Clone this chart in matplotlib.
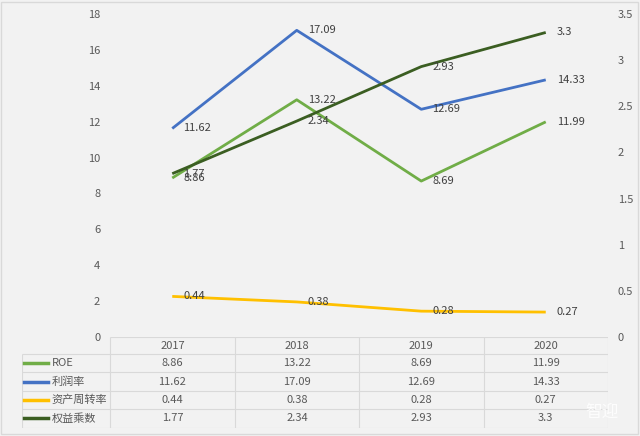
import matplotlib.pyplot as plt

plt.rcParams['font.family'] = ['Noto Sans CJK SC', 'DejaVu Sans']

years = ['2017', '2018', '2019', '2020']
roe = [8.86, 13.22, 8.69, 11.99]
profit_margin = [11.62, 17.09, 12.69, 14.33]
asset_turnover = [0.44, 0.38, 0.28, 0.27]
equity_multiplier = [1.77, 2.34, 2.93, 3.3]

names = ['ROE', '利润率', '资产周转率', '权益乘数']
colors = ['#70ad47', '#4472c4', '#ffc000', '#3b5e22']
series = [roe, profit_margin, asset_turnover, equity_multiplier]
right_axis = [False, False, True, True]

bg = '#f2f2f2'
txt = '#595959'
grid = '#d9d9d9'
W, H = 640, 436

fig = plt.figure(figsize=(6.4, 4.36), dpi=100, facecolor=bg)

# main plot area
ax = fig.add_axes([110 / W, 1 - 337 / H, (608 - 110) / W, (337 - 14) / H])
ax.set_facecolor('none')
ax2 = ax.twinx()
x = list(range(len(years)))
ax.set_xlim(-0.5, 3.5)
ax.set_ylim(0, 18)
ax.set_yticks(range(0, 19, 2))
ax2.set_ylim(0, 3.5)
ax2.set_yticks([0, 0.5, 1, 1.5, 2, 2.5, 3, 3.5])
ax2.set_yticklabels(['0', '0.5', '1', '1.5', '2', '2.5', '3', '3.5'])
ax.set_xticks([])
for a in (ax, ax2):
    for s in a.spines.values():
        s.set_visible(False)
    a.tick_params(length=0, labelsize=8, labelcolor=txt, pad=7)

for vals, c, right in zip(series, colors, right_axis):
    a = ax2 if right else ax
    a.plot(x, vals, color=c, lw=2.0, solid_capstyle='butt')
    for xi, v in zip(x, vals):
        a.annotate(f'{v:g}', (xi, v), xytext=(8, 0), textcoords='offset points',
                   ha='left', va='center', fontsize=8, color='#404040')

# data table
tab = fig.add_axes([22 / W, 1 - 428 / H, (608 - 22) / W, (428 - 337) / H])
tab.set_facecolor('none')
left = -0.5 - 88 / 124
tab.set_xlim(left, 3.5)
tab.set_ylim(5, 0)
tab.axis('off')
row_y = [0, 0.94, 1.95, 2.95, 3.95, 5]
tab.hlines(row_y[0], -0.5, 3.5, color=grid, lw=0.8)
tab.hlines(row_y[1:], left, 3.5, color=grid, lw=0.8)
tab.vlines([-0.5, 0.5, 1.5, 2.5, 3.5], 0, 5, color=grid, lw=0.8)
tab.vlines(left, row_y[1], 5, color=grid, lw=0.8)
for xi, yr in zip(x, years):
    tab.text(xi, (row_y[0] + row_y[1]) / 2, yr, ha='center', va='center',
             fontsize=8, color=txt)
for i, (name, vals, c) in enumerate(zip(names, series, colors)):
    yc = (row_y[i + 1] + row_y[i + 2]) / 2
    tab.plot([left + 0.02, left + 0.21], [yc, yc], color=c, lw=2.5)
    tab.text(left + 0.24, yc, name, ha='left', va='center', fontsize=8, color=txt)
    for xi, v in zip(x, vals):
        tab.text(xi, yc, f'{v:g}', ha='center', va='center', fontsize=8, color=txt)

fig.text(602 / W, 1 - 412 / H, '智迎', ha='center', va='center', fontsize=12,
         color='white', alpha=0.85)

fig.patches.append(plt.Rectangle((0.002, 0.004), 0.995, 0.992, transform=fig.transFigure,
                                 fill=False, edgecolor='#d9d9d9', lw=1))
fig.savefig('out.png', dpi=100, facecolor=bg)
